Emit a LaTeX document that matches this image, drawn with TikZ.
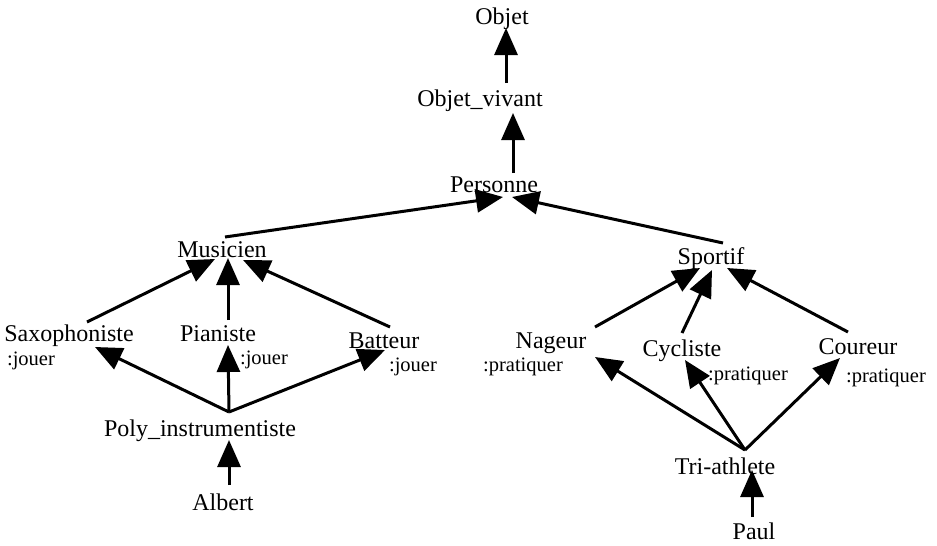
\documentclass[tikz,border=0pt]{standalone}
\usepackage{fontspec}
\setmainfont{Liberation Serif}
\usetikzlibrary{arrows.meta}
\begin{document}
\begin{tikzpicture}[x=1pt,y=-1pt,
  lab/.style={font=\fontsize{24}{27}\selectfont, inner sep=0pt, anchor=base},
  sub/.style={font=\fontsize{20.5}{23}\selectfont, inner sep=0pt, anchor=base},
  link/.style={line width=3pt},
  isa/.style={link, -{Triangle[width=23pt,length=27pt]}}]
\useasboundingbox (0,0) rectangle (937,546);
% class nodes
\node[lab] (objet) at (502,24) {Objet};
\node[lab] (ov) at (480,106) {Objet\_vivant};
\node[lab] (pers) at (494,192) {Personne};
\node[lab] (mus) at (222,257) {Musicien};
\node[lab] (sport) at (711,264) {Sportif};
\node[lab] (sax) at (69,341) {Saxophoniste};
\node[sub] (saxj) at (31,365) {:jouer};
\node[lab] (pia) at (218,341) {Pianiste};
\node[sub] (piaj) at (264,364) {:jouer};
\node[lab] (bat) at (384,348) {Batteur};
\node[sub] (batj) at (413,371) {:jouer};
\node[lab] (poly) at (200,436) {Poly\_instrumentiste};
\node[lab] (alb) at (223,510) {Albert};
\node[lab] (nag) at (551,348) {Nageur};
\node[sub] (nagp) at (523,371) {:pratiquer};
\node[lab] (cyc) at (682,356) {Cycliste};
\node[sub] (cycp) at (748,380) {:pratiquer};
\node[lab] (cou) at (858,354) {Coureur};
\node[sub] (coup) at (886,382) {:pratiquer};
\node[lab] (tri) at (725,474) {Tri-athlete};
\node[lab] (paul) at (754,539) {Paul};
% connector end points
\coordinate (ob-b) at (506,28);
\coordinate (ov-t) at (506,83);
\coordinate (ov-b) at (513,113);
\coordinate (pe-t) at (513,173);
\coordinate (pe-l) at (503,197);
\coordinate (pe-r) at (512,197);
\coordinate (mu-t) at (225,237);
\coordinate (sp-t) at (723,243);
\coordinate (mu-l) at (215,259);
\coordinate (mu-m) at (228,258);
\coordinate (mu-r) at (243,260);
\coordinate (sa-t) at (87,322);
\coordinate (pi-t) at (228,320);
\coordinate (ba-t) at (390,327);
\coordinate (sa-b) at (95,347);
\coordinate (pi-b) at (228,345);
\coordinate (ba-b) at (385,350);
\coordinate (po-t) at (229,412);
\coordinate (po-b) at (229,440);
\coordinate (al-t) at (229,485);
\coordinate (sp-l) at (700,268);
\coordinate (sp-m) at (712,270);
\coordinate (sp-r) at (727,268);
\coordinate (na-t) at (595,327);
\coordinate (cy-t) at (682,333);
\coordinate (co-t) at (848,332);
\coordinate (na-b) at (595,357);
\coordinate (cy-b) at (685,360);
\coordinate (co-b) at (840,358);
\coordinate (tr-t) at (745,450);
\coordinate (tr-b) at (752,470);
\coordinate (pa-t) at (752,517);
% connectors
\draw[isa] (ov-t) -- (ob-b);
\draw[isa] (pe-t) -- (ov-b);
\draw[isa] (mu-t) -- (pe-l);
\draw[isa] (sp-t) -- (pe-r);
\draw[isa] (sa-t) -- (mu-l);
\draw[isa] (pi-t) -- (mu-m);
\draw[isa] (ba-t) -- (mu-r);
\draw[isa] (po-t) -- (sa-b);
\draw[isa] (po-t) -- (pi-b);
\draw[isa] (po-t) -- (ba-b);
\draw[isa] (al-t) -- (po-b);
\draw[isa] (na-t) -- (sp-l);
\draw[isa] (cy-t) -- (sp-m);
\draw[isa] (co-t) -- (sp-r);
\draw[isa] (tr-t) -- (na-b);
\draw[isa] (tr-t) -- (cy-b);
\draw[isa] (tr-t) -- (co-b);
\draw[isa] (pa-t) -- (tr-b);
\end{tikzpicture}
\end{document}
